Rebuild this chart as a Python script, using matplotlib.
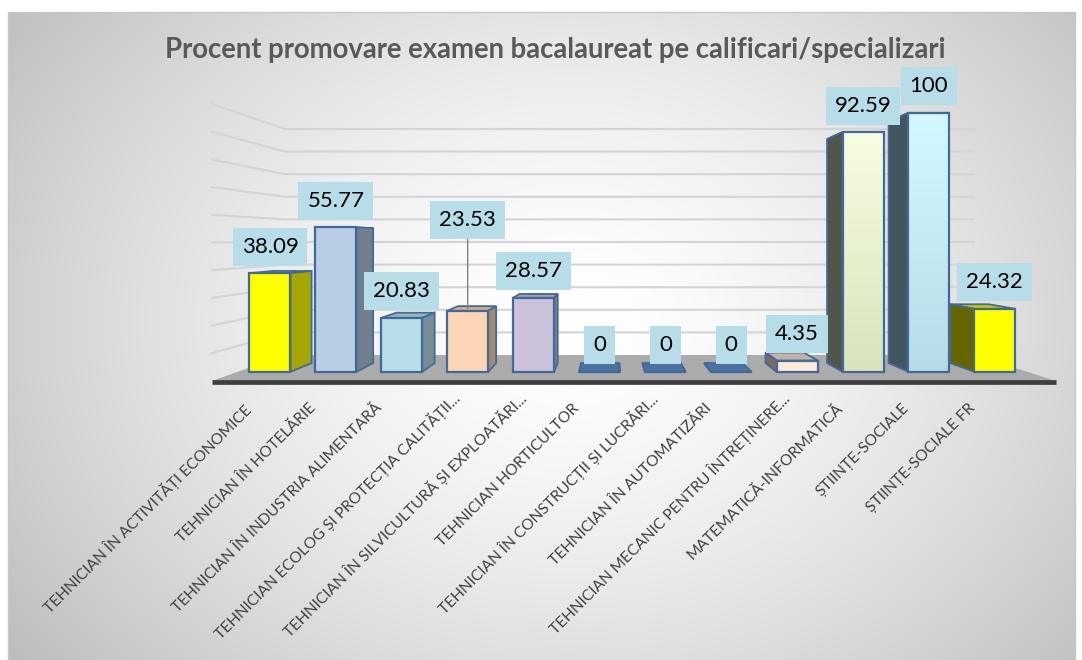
import numpy as np
import matplotlib
matplotlib.use('Agg')
import matplotlib.pyplot as plt
from matplotlib.patches import Polygon, Rectangle

# ---------------- data ----------------
title = "Procent promovare examen bacalaureat pe calificari/specializari"
categories = [
    "TEHNICIAN ÎN ACTIVITĂȚI ECONOMICE",
    "TEHNICIAN ÎN HOTELĂRIE",
    "TEHNICIAN ÎN INDUSTRIA ALIMENTARĂ",
    "TEHNICIAN ECOLOG ȘI PROTECȚIA CALITĂȚII...",
    "TEHNICIAN ÎN SILVICULTURĂ ȘI EXPLOATĂRI...",
    "TEHNICIAN HORTICULTOR",
    "TEHNICIAN ÎN CONSTRUCȚII ȘI LUCRĂRI...",
    "TEHNICIAN ÎN AUTOMATIZĂRI",
    "TEHNICIAN MECANIC PENTRU ÎNTREȚINERE...",
    "MATEMATICĂ-INFORMATICĂ",
    "ȘTIINȚE-SOCIALE",
    "ȘTIINȚE-SOCIALE FR",
]
values = [38.09, 55.77, 20.83, 23.53, 28.57, 0, 0, 0, 4.35, 92.59, 100, 24.32]
value_labels = ["38.09", "55.77", "20.83", "23.53", "28.57", "0", "0", "0",
                "4.35", "92.59", "100", "24.32"]
gridline_values = list(range(0, 101, 10))

# ---------------- styles ----------------
front_top = ['#FFFF00', '#B9CDE5', '#B7DDE8', '#FCD5B5', '#CCC1DA', '#4A71A0',
             '#4A71A0', '#4A71A0', '#FDE9D9', '#F7FDE2', '#D4F8FF', '#FFFF00']
front_bot = ['#FFFF00', '#B9CDE5', '#B7DDE8', '#FCD5B5', '#CCC1DA', '#4A71A0',
             '#4A71A0', '#4A71A0', '#FDE9D9', '#D8E4BC', '#B6DCE8', '#FFFF00']
side_colors = ['#A6A600', '#717F8E', '#758E94', '#A5896F', '#837C8E', '#4A71A0',
               '#4A71A0', '#4A71A0', '#7A6A60', '#50574A', '#42565F', '#666600']
top_colors = ['#C8C800', '#96A8BC', '#96B5BE', '#D1AE92', '#A89FB4', '#4A71A0',
              '#4A71A0', '#4A71A0', '#C2B2A6', '#9AA286', '#8CAAB5', '#C8C800']
EDGE = '#41699A'
LABEL_BOX = '#B7DEE8'
FONT = ['Lato', 'DejaVu Sans']

W, H = 1082, 660
fig = plt.figure(figsize=(W / 100, H / 100), dpi=100)

# ---------------- background ----------------
bg = fig.add_axes([0, 0, 1, 1])
bg.set_xlim(0, W)
bg.set_ylim(H, 0)
bg.axis('off')
yy, xx = np.mgrid[0:H, 0:W]
r = np.sqrt(((xx - 570) / 700.0) ** 2 + ((yy - 320) / 560.0) ** 2)
t = np.clip(r, 0, 1) ** 1.5
val = 1 - 0.26 * t
img = np.dstack([val, val, val])
mask = (xx < 8) | (xx > 1075) | (yy < 12)
img[mask] = 1.0
bg.imshow(img, extent=(0, W, H, 0), interpolation='bilinear', aspect='auto')
bg.plot([8, 8, 1075, 1075], [H, 12, 12, H], color='#C8C8C8', lw=1)
bg.set_xlim(0, W)
bg.set_ylim(H, 0)

# ---------------- main axes (front plane of floor) ----------------
ax = fig.add_axes([0, 0, 1, 1], facecolor='none')
PX0, PXS, PY0, PYS = 246.4, 70.48, 381.0, 2.77
XLIM = (-PX0 / PXS, (W - PX0) / PXS)
YLIM = (-(H - PY0) / PYS, PY0 / PYS)
ax.set_xlim(*XLIM)
ax.set_ylim(*YLIM)
ax.set_autoscale_on(False)
ax.axis('off')

VPX = (609.0 - PX0) / PXS
VPV = (PY0 - 239.7) / PYS
FF, FB, FK, FW = 1.0, 0.935, 0.873, 0.816
n = len(values)
XL, XR = -0.49, n - 1 + 0.49
HW = 0.311


def proj(x, v, f):
    return (VPX + f * (x - VPX), VPV + f * (v - VPV))


# gridlines: left wall + back wall
for g in gridline_values:
    if g == 0:
        continue
    p1, p2, p3 = proj(XL, g, FF), proj(XL, g, FW), proj(XR, g, FW)
    ax.plot([p1[0], p2[0], p3[0]], [p1[1], p2[1], p3[1]], color='#D4D4D4',
            lw=1.5, zorder=1, solid_joinstyle='miter')

# floor
floor = [proj(XL, 0, FF), proj(XR, 0, FF), proj(XR, 0, FW), proj(XL, 0, FW)]
ax.add_patch(Polygon(floor, closed=True, fc='#ABABAB', ec='none', zorder=2))
e1, e2 = proj(XL, -0.5, FF), proj(XR, -0.5, FF)
ax.plot([e1[0], e2[0]], [e1[1], e2[1]], color='#3F3F3F', lw=3.4,
        solid_capstyle='butt', zorder=3)

# bars
for i, v in enumerate(values):
    xl, xr = i - HW, i + HW
    sx = xr if i < VPX else xl
    side = [proj(sx, 0, FB), proj(sx, 0, FK), proj(sx, v, FK), proj(sx, v, FB)]
    top = [proj(xl, v, FB), proj(xr, v, FB), proj(xr, v, FK), proj(xl, v, FK)]
    front = [proj(xl, 0, FB), proj(xr, 0, FB), proj(xr, v, FB), proj(xl, v, FB)]
    z = 5
    ax.add_patch(Polygon(top, closed=True, fc=top_colors[i], ec=EDGE, lw=1.3,
                         joinstyle='miter', zorder=z))
    ax.add_patch(Polygon(side, closed=True, fc=side_colors[i], ec=EDGE, lw=1.3,
                         joinstyle='miter', zorder=z + 0.1))
    if front_top[i] != front_bot[i]:
        c1 = np.array(matplotlib.colors.to_rgb(front_top[i]))
        c2 = np.array(matplotlib.colors.to_rgb(front_bot[i]))
        tt = np.linspace(0, 1, 64)[:, None]
        grad = (c1 * (1 - tt) + c2 * tt)[:, None, :]
        fp = Polygon(front, closed=True, fc='none', ec='none', zorder=z + 0.2)
        ax.add_patch(fp)
        im = ax.imshow(grad, extent=(front[0][0], front[1][0], front[0][1], front[2][1]),
                       aspect='auto', zorder=z + 0.2, interpolation='bilinear')
        im.set_clip_path(fp)
        ax.add_patch(Polygon(front, closed=True, fill=False, ec=EDGE, lw=1.6,
                             joinstyle='miter', zorder=z + 0.3))
    else:
        ax.add_patch(Polygon(front, closed=True, fc=front_top[i], ec=EDGE, lw=1.6,
                             joinstyle='miter', zorder=z + 0.3))

ax.set_xlim(*XLIM)
ax.set_ylim(*YLIM)

# ---------------- font sizing ----------------
renderer = fig.canvas.get_renderer()


def text_extent(s, size, weight='normal'):
    tt_ = fig.text(0, 0, s, fontsize=size, family=FONT, weight=weight)
    ext = tt_.get_window_extent(renderer)
    tt_.remove()
    return ext.width, ext.height


title_size = 16 * 787.0 / text_extent(title, 16, 'bold')[0]
label_size = 10 * 286.0 / text_extent(categories[0], 10)[0]
value_size = 15 * 57.0 / text_extent("38.09", 15)[0]
vw, vh = text_extent("38.09", value_size)
pad_px = max((38.0 - vh) / 2.0, 2.0)
pad = pad_px / (value_size * 100 / 72.0)

fig.text(555.0 / W, 1 - 50.0 / H, title, ha='center', va='center',
         fontsize=title_size, weight='bold', color='#595959', family=FONT)

# data labels
extra_up = {3: 64.0}
for i, v in enumerate(values):
    fx, fv = proj(i, v, FB)
    up = 7.5 + pad_px + extra_up.get(i, 0.0)
    ty = fv + up / PYS
    if i in extra_up:
        _, mv = proj(i, v, (FB + FK) / 2)
        ax.annotate(value_labels[i], xy=(fx, mv), xytext=(fx, ty), textcoords='data',
                    ha='center', va='bottom', fontsize=value_size, family=FONT,
                    color='black', zorder=20,
                    bbox=dict(boxstyle='square,pad=%.3f' % pad, fc=LABEL_BOX, ec='none'),
                    arrowprops=dict(arrowstyle='-', color='#7F7F7F', lw=1.0,
                                    shrinkA=0, shrinkB=0))
    else:
        ax.text(fx, ty, value_labels[i], ha='center', va='bottom', fontsize=value_size,
                family=FONT, color='black', zorder=20,
                bbox=dict(boxstyle='square,pad=%.3f' % pad, fc=LABEL_BOX, ec='none'))

# category labels (truncated ones sit a bit further along their direction)
for i, c in enumerate(categories):
    fx, _ = proj(i, 0, FB)
    shift = 11.0 if c.endswith('...') else 0.0
    px = fx - 27.0 / PXS + shift / PXS
    py = (PY0 - 401.0) / PYS + shift / PYS
    ax.text(px, py, c, rotation=45, rotation_mode='anchor',
            ha='right', va='top', fontsize=label_size, family=FONT, color='#404040',
            zorder=20)

fig.savefig('out.png', dpi=100)
